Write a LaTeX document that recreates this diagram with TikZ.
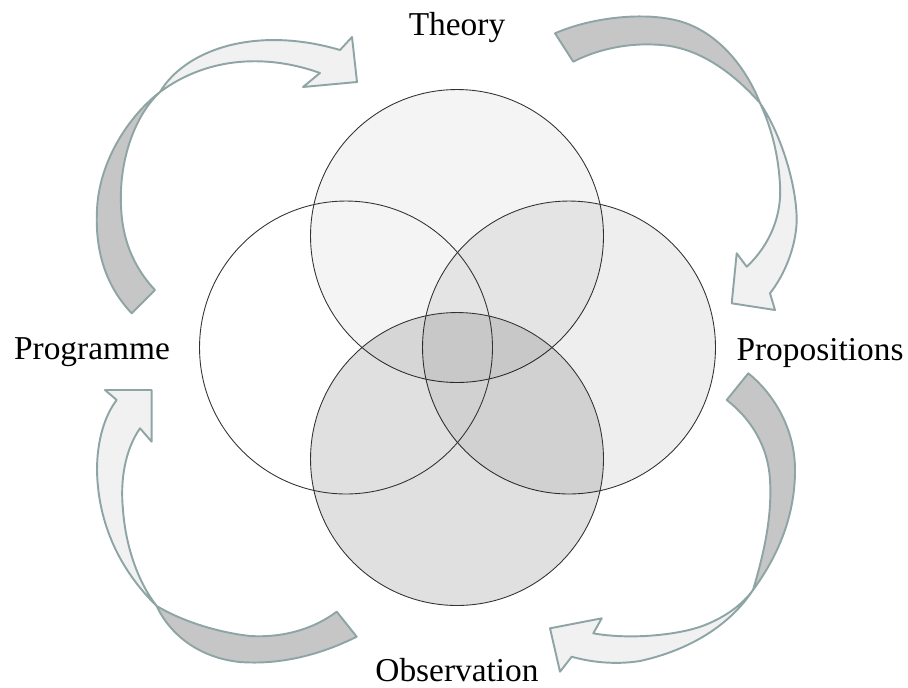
\documentclass[tikz,border=0pt]{standalone}
\usepackage{fontspec}
\setmainfont{Liberation Serif}
\definecolor{arrowline}{RGB}{143,165,165}
\definecolor{arrowback}{RGB}{198,198,198}
\definecolor{arrowfront}{RGB}{241,241,241}
\begin{document}
\begin{tikzpicture}[
    x=0.02cm, y=-0.02cm,
    every node/.style={font=\fontsize{19}{22}\selectfont, anchor=base},
    venn/.style={circle, draw=black!80, line width=0.5pt, minimum size=5.86cm, inner sep=0pt, anchor=center}, % the four circles
    ribbonback/.style={fill=arrowback, draw=arrowline, line width=1.1pt, line join=round}, % dark tail of an arrow
    ribbonfront/.style={fill=arrowfront, draw=arrowline, line width=1.1pt, line join=round}, % light head of an arrow
    shade1/.style={fill=black, fill opacity=0.045},
    shade2/.style={fill=black, fill opacity=0.065},
    shade3/.style={fill=black, fill opacity=0.12}
]
\useasboundingbox (0,0) rectangle (908,687);

% circles
\node[venn, shade1] (theorycirc) at (457,236) {};
\node[venn, shade2] (propcirc) at (569,347.5) {};
\node[venn, shade3] (obscirc) at (457,459) {};
\node[venn] (progcirc) at (346,347.5) {};

% labels
\node (theory) at (457,35) {Theory};
\node (prog) at (92,359) {Programme};
\node (props) at (820,360) {Propositions};
\node (obs) at (457,681) {Observation};

% programme -> theory
\draw[ribbonback] (155,290) -- (131.7,313.3)
    .. controls (105,285) and (95,250) .. (97,210)
    .. controls (99,160) and (130,115) .. (160,92)
    .. controls (135,115) and (119,160) .. (121,205)
    .. controls (122,245) and (138,272) .. (155,290) -- cycle;
\draw[ribbonfront] (160,92) .. controls (185,50) and (255,25) .. (340,50)
    -- (352,37) -- (357,82) -- (303,87) -- (320,73)
    .. controls (270,55) and (210,55) .. (160,92) -- cycle;

% theory -> propositions
\draw[ribbonback] (573.3,61.7) -- (555,33.3)
    .. controls (590,18) and (640,12) .. (675,20)
    .. controls (715,29) and (745,65) .. (760,103)
    .. controls (735,75) and (705,52) .. (670,46)
    .. controls (635,41) and (600,48) .. (573.3,61.7) -- cycle;
\draw[ribbonfront] (760,103) .. controls (785,140) and (800,200) .. (796,230)
    .. controls (793,255) and (782,278) .. (770,293.3)
    -- (775,310) -- (731.7,303.3) -- (736.7,253.3) -- (746.7,266.7)
    .. controls (770,245) and (782,215) .. (780,185)
    .. controls (778,150) and (770,125) .. (760,103) -- cycle;

% propositions -> observation
\draw[ribbonback] (726.7,400) -- (748.3,373.3)
    .. controls (775,395) and (795,430) .. (795,470)
    .. controls (795,520) and (775,560) .. (753,590)
    .. controls (765,550) and (772,515) .. (770,480)
    .. controls (768,445) and (750,418) .. (726.7,400) -- cycle;
\draw[ribbonfront] (753,590) .. controls (730,625) and (690,650) .. (640,661)
    .. controls (615,665) and (590,662) .. (571.7,656.7)
    -- (560,671.7) -- (550,628.3) -- (601.7,618.3) -- (593.3,633.3)
    .. controls (630,640) and (680,635) .. (705,625)
    .. controls (725,617) and (742,605) .. (753,590) -- cycle;

% observation -> programme
\draw[ribbonback] (336.7,611.7) -- (356.7,636.7)
    .. controls (320,655) and (280,665) .. (240,662)
    .. controls (200,658) and (170,635) .. (156.7,606)
    .. controls (180,620) and (215,632) .. (250,636)
    .. controls (285,638) and (315,628) .. (336.7,611.7) -- cycle;
\draw[ribbonfront] (156.7,606) .. controls (125,575) and (98,530) .. (97,470)
    .. controls (97,440) and (105,415) .. (116.7,400)
    -- (105,390) -- (151.7,390) -- (151.7,441.7) -- (140,428.3)
    .. controls (125,450) and (120,480) .. (123,510)
    .. controls (126,550) and (140,585) .. (156.7,606) -- cycle;
\end{tikzpicture}
\end{document}
